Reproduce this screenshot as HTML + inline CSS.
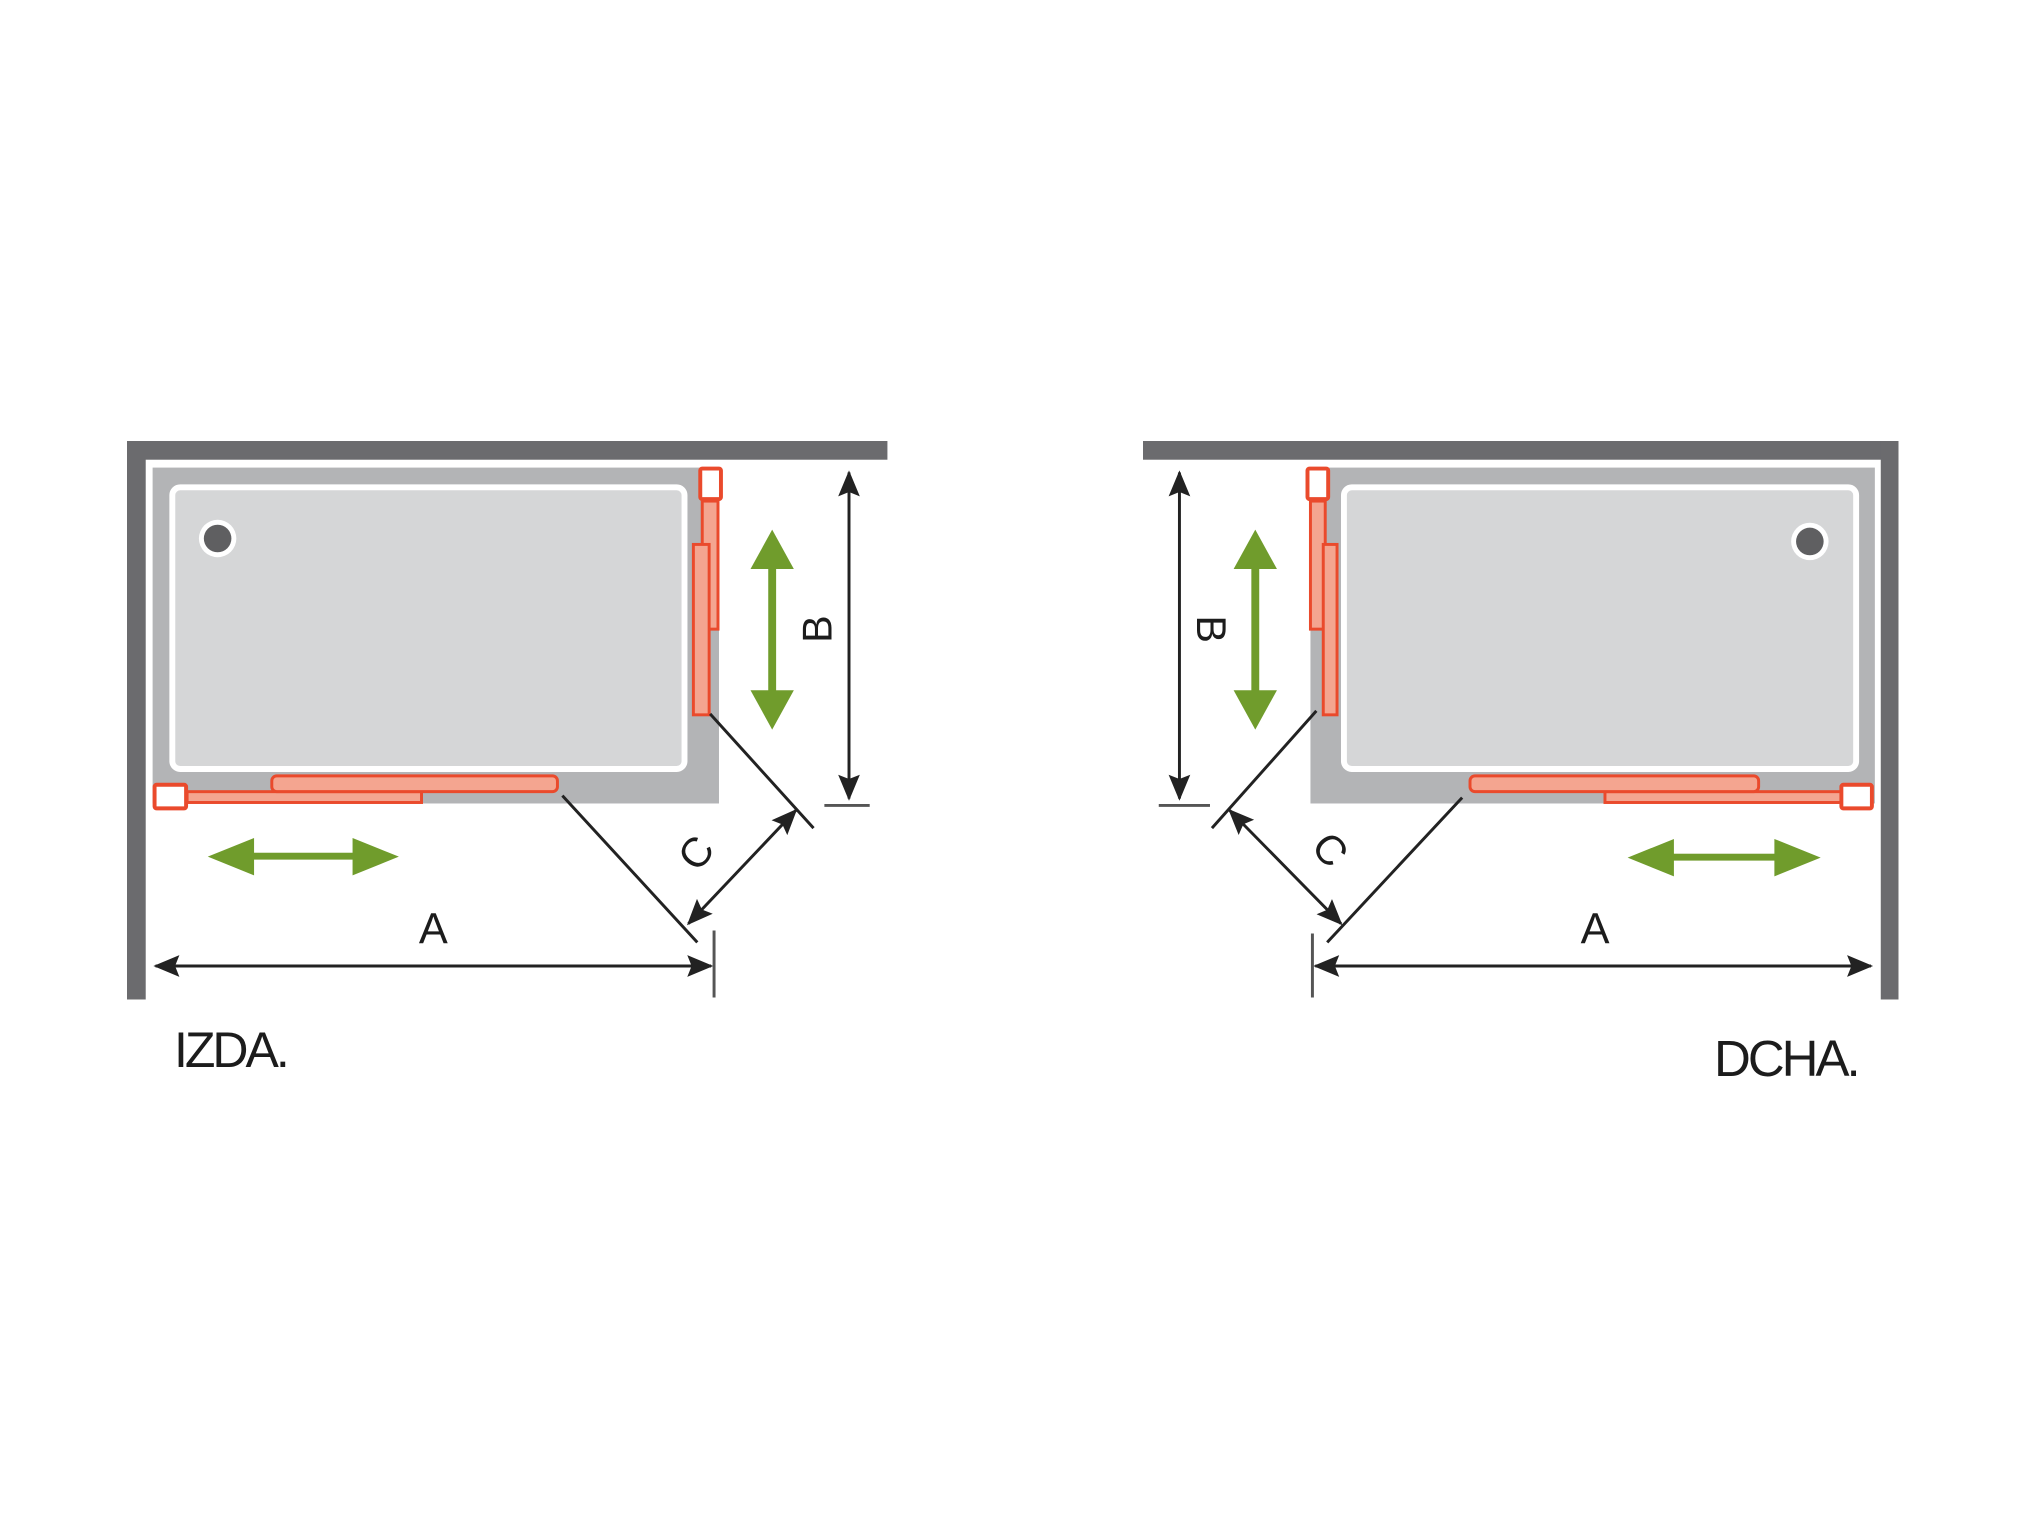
<!DOCTYPE html>
<html><head><meta charset="utf-8"><style>
html,body{margin:0;padding:0;background:#fff;}
svg{display:block;}
text{font-family:"Liberation Sans",sans-serif;fill:#1c1c1c;}
</style></head><body>
<svg width="2026" height="1519" viewBox="0 0 2026 1519" xmlns="http://www.w3.org/2000/svg">
<defs>
<marker id="ab" viewBox="0 0 12 10" refX="11" refY="5" markerWidth="28" markerHeight="22" markerUnits="userSpaceOnUse" orient="auto-start-reverse"><path d="M0,0 L12,5 L0,10 L2,5z" fill="#222"/></marker>
</defs>
<!-- LEFT -->
<g transform="translate(127,441) scale(0.985) translate(-127,-441)">
<rect x="127" y="441" width="772" height="19" fill="#6b6b6e"/>
<rect x="127" y="441" width="19" height="567" fill="#6b6b6e"/>
<rect x="153" y="468" width="575" height="341" fill="#b3b4b6"/>
<rect x="173" y="488" width="520" height="286" rx="8" fill="#d5d6d7" stroke="#fff" stroke-width="6"/>
<circle cx="219" cy="540" r="19" fill="#fff"/><circle cx="219" cy="540" r="14" fill="#5f5f61"/>
<rect x="711" y="502" width="16" height="130" fill="#f4a590" stroke="#ea4a2c" stroke-width="3"/>
<rect x="702" y="546" width="16" height="173" fill="#f4a590" stroke="#ea4a2c" stroke-width="3"/>
<rect x="709" y="469" width="21" height="31" rx="2" fill="#fff" stroke="#ea4a2c" stroke-width="4"/>
<rect x="188" y="797" width="238" height="11" fill="#f4a590" stroke="#ea4a2c" stroke-width="3"/>
<rect x="274" y="781" width="290" height="16" rx="5" fill="#f4a590" stroke="#ea4a2c" stroke-width="3"/>
<rect x="155" y="790" width="32" height="24" rx="2" fill="#fff" stroke="#ea4a2c" stroke-width="4"/>
<g fill="#709c2c">
<rect x="250" y="859" width="110" height="7"/>
<path d="M209,863 L256,844 L256,882z"/><path d="M403,863 L356,844 L356,882z"/>
<rect x="778" y="566" width="8" height="133"/>
<path d="M782,531 L760,571 L804,571z"/><path d="M782,734 L760,694 L804,694z"/>
</g>
<g stroke="#222" stroke-width="3" fill="none">
<line x1="860" y1="473" x2="860" y2="804" marker-start="url(#ab)" marker-end="url(#ab)"/>
<line x1="835" y1="811" x2="881" y2="811" stroke="#555"/>
<line x1="719" y1="718" x2="824" y2="834"/>
<line x1="569" y1="801" x2="706" y2="950"/>
<line x1="806" y1="816" x2="697" y2="931" marker-start="url(#ab)" marker-end="url(#ab)"/>
<line x1="156" y1="974" x2="720" y2="974" marker-start="url(#ab)" marker-end="url(#ab)"/>
<line x1="723" y1="938" x2="723" y2="1006" stroke="#555"/>
</g>
<text font-size="42" transform="translate(842,632) rotate(-90)" text-anchor="middle">B</text>
<text font-size="42" transform="translate(716,868) rotate(-52)" text-anchor="middle">C</text>
<text x="438" y="951" font-size="44" text-anchor="middle">A</text>
</g>
<text x="174" y="1067" font-size="50" letter-spacing="-3">IZDA.</text>
<!-- RIGHT -->
<g transform="translate(1143,441) scale(0.985) translate(-1143,-441)">
<rect x="1143" y="441" width="767" height="19" fill="#6b6b6e"/>
<rect x="1892" y="441" width="18" height="567" fill="#6b6b6e"/>
<rect x="1313" y="468" width="573" height="341" fill="#b3b4b6"/>
<rect x="1347" y="488" width="520" height="286" rx="8" fill="#d5d6d7" stroke="#fff" stroke-width="6"/>
<circle cx="1820" cy="543" r="19" fill="#fff"/><circle cx="1820" cy="543" r="14" fill="#5f5f61"/>
<rect x="1313" y="502" width="15" height="130" fill="#f4a590" stroke="#ea4a2c" stroke-width="3"/>
<rect x="1326" y="546" width="14" height="173" fill="#f4a590" stroke="#ea4a2c" stroke-width="3"/>
<rect x="1310" y="469" width="21" height="31" rx="2" fill="#fff" stroke="#ea4a2c" stroke-width="4"/>
<rect x="1612" y="797" width="240" height="11" fill="#f4a590" stroke="#ea4a2c" stroke-width="3"/>
<rect x="1475" y="781" width="293" height="16" rx="5" fill="#f4a590" stroke="#ea4a2c" stroke-width="3"/>
<rect x="1852" y="790" width="31" height="24" rx="2" fill="#fff" stroke="#ea4a2c" stroke-width="4"/>
<g fill="#709c2c">
<rect x="1676" y="860" width="114" height="7"/>
<path d="M1635,864 L1682,845 L1682,883z"/><path d="M1831,864 L1784,845 L1784,883z"/>
<rect x="1253" y="566" width="8" height="133"/>
<path d="M1257,531 L1235,571 L1279,571z"/><path d="M1257,734 L1235,694 L1279,694z"/>
</g>
<g stroke="#222" stroke-width="3" fill="none">
<line x1="1180" y1="473" x2="1180" y2="804" marker-start="url(#ab)" marker-end="url(#ab)"/>
<line x1="1159" y1="811" x2="1211" y2="811" stroke="#555"/>
<line x1="1319" y1="715" x2="1213" y2="834"/>
<line x1="1467" y1="803" x2="1330" y2="950"/>
<line x1="1231" y1="816" x2="1344" y2="931" marker-start="url(#ab)" marker-end="url(#ab)"/>
<line x1="1318" y1="974" x2="1882" y2="974" marker-start="url(#ab)" marker-end="url(#ab)"/>
<line x1="1315" y1="941" x2="1315" y2="1006" stroke="#555"/>
</g>
<text font-size="42" transform="translate(1198,632) rotate(90)" text-anchor="middle">B</text>
<text font-size="42" transform="translate(1322,865) rotate(50)" text-anchor="middle">C</text>
<text x="1602" y="951" font-size="44" text-anchor="middle">A</text>
</g>
<text x="1714" y="1076" font-size="51" letter-spacing="-3">DCHA.</text>
</svg>
</body></html>
